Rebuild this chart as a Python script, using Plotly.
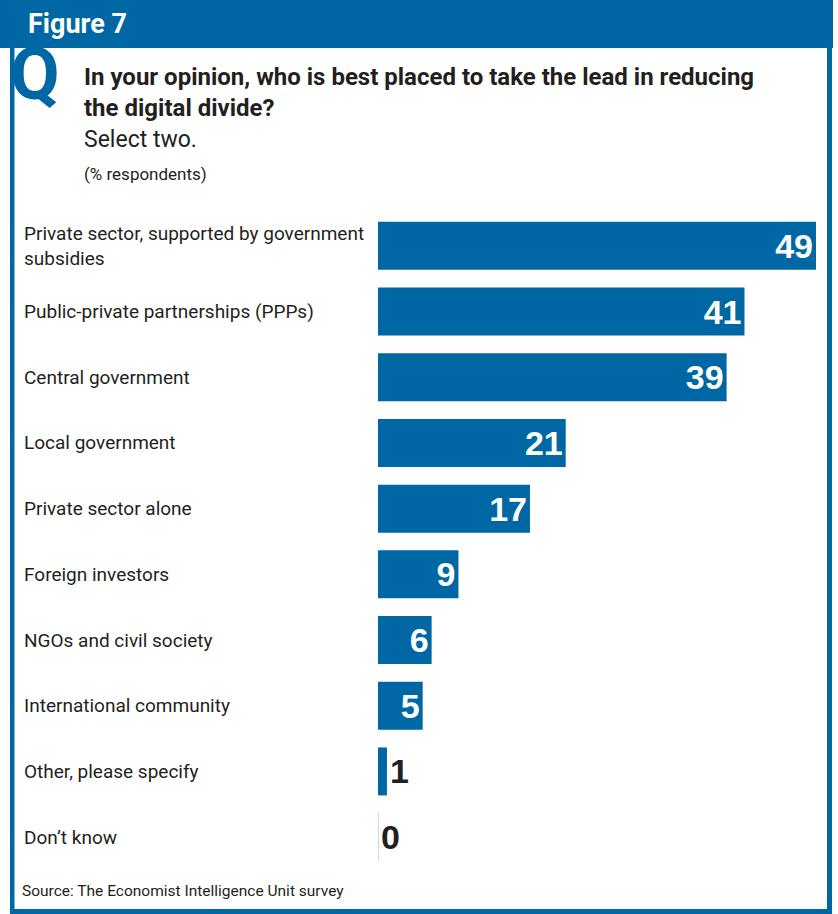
import plotly.graph_objects as go

# Survey answers, shown top to bottom
categories = [
    "Private sector, supported by government<br>subsidies",
    "Public-private partnerships (PPPs)",
    "Central government",
    "Local government",
    "Private sector alone",
    "Foreign investors",
    "NGOs and civil society",
    "International community",
    "Other, please specify",
    "Don’t know",
]
values = [49, 41, 39, 21, 17, 9, 6, 5, 1, 0]

BLUE = "#0067A5"
W, H = 838, 914
PLOT_L, PLOT_R = 378, 816
PLOT_T, PLOT_B = 213, 870


def px(x):
    return (x - PLOT_L) / (PLOT_R - PLOT_L)


def py(y):
    return (PLOT_B - y) / (PLOT_B - PLOT_T)


# values too small to hold their label inside the bar get it outside, in black
inside = [v >= 5 for v in values]
positions = ["inside" if ok else "outside" for ok in inside]
text_colors = ["white" if ok else "#231f20" for ok in inside]

fig = go.Figure(
    go.Bar(
        x=values,
        y=list(range(len(values))),
        orientation="h",
        marker=dict(color=BLUE, line=dict(width=0)),
        width=0.73,
        text=[str(v) for v in values],
        textposition=positions,
        insidetextanchor="end",
        textfont=dict(family="Liberation Sans", size=34, color=text_colors,
                      weight="bold"),
        cliponaxis=False,
        hoverinfo="skip",
    )
)

shapes = []
# thin marker for a zero-length bar
for i, v in enumerate(values):
    if v == 0:
        shapes.append(dict(type="line", xref="x", yref="y", x0=0, x1=0,
                           y0=i - 0.37, y1=i + 0.37,
                           line=dict(color="#b5d0e6", width=1.5)))

# header band and frame
frame = [
    (0, 0, 833, 48),      # header
    (10, 48, 14.5, 914),  # left border
    (827, 48, 832, 914),  # right border
    (10, 909, 832, 914),  # bottom border
]
for x0, y0, x1, y1 in frame:
    shapes.append(dict(type="rect", xref="paper", yref="paper",
                       x0=px(x0), x1=px(x1), y0=py(y1), y1=py(y0),
                       fillcolor=BLUE, line=dict(width=0), layer="below"))

annotations = []
LABEL_FONT = dict(family="Roboto", size=19, color="#231f20")
for i, cat in enumerate(categories):
    annotations.append(dict(
        x=px(22), xref="paper", y=i, yref="y", text=cat,
        xanchor="left", yanchor="middle", align="left",
        showarrow=False, font=LABEL_FONT,
    ))


def note(x, y, text, size, color="#231f20", bold=False, family="Roboto",
         yanchor="middle"):
    annotations.append(dict(
        x=px(x), xref="paper", y=py(y), yref="paper", text=text,
        xanchor="left", yanchor=yanchor, align="left", showarrow=False,
        font=dict(family=family, size=size, color=color,
                  weight="bold" if bold else "normal"),
    ))


note(26, 24, "Figure 7", 27, color="white", bold=True)
note(8, 75, "Q", 72, color=BLUE, bold=True)
note(82, 77, "In your opinion, who is best placed to take the lead in reducing",
     24, bold=True)
note(82, 108, "the digital divide?", 24, bold=True)
note(82, 140, "Select two.", 23)
note(82, 174, "(% respondents)", 17)
note(20, 891, "Source: The Economist Intelligence Unit survey", 15.5)

fig.update_layout(
    width=W, height=H,
    margin=dict(l=PLOT_L, r=W - PLOT_R, t=PLOT_T, b=H - PLOT_B, pad=0),
    paper_bgcolor="white", plot_bgcolor="white",
    showlegend=False,
    xaxis=dict(range=[0, 49], visible=False, fixedrange=True),
    yaxis=dict(range=[len(values) - 0.5, -0.5], visible=False, fixedrange=True),
    shapes=shapes,
    annotations=annotations,
)

fig.write_html("out.html", config={"displayModeBar": False})
